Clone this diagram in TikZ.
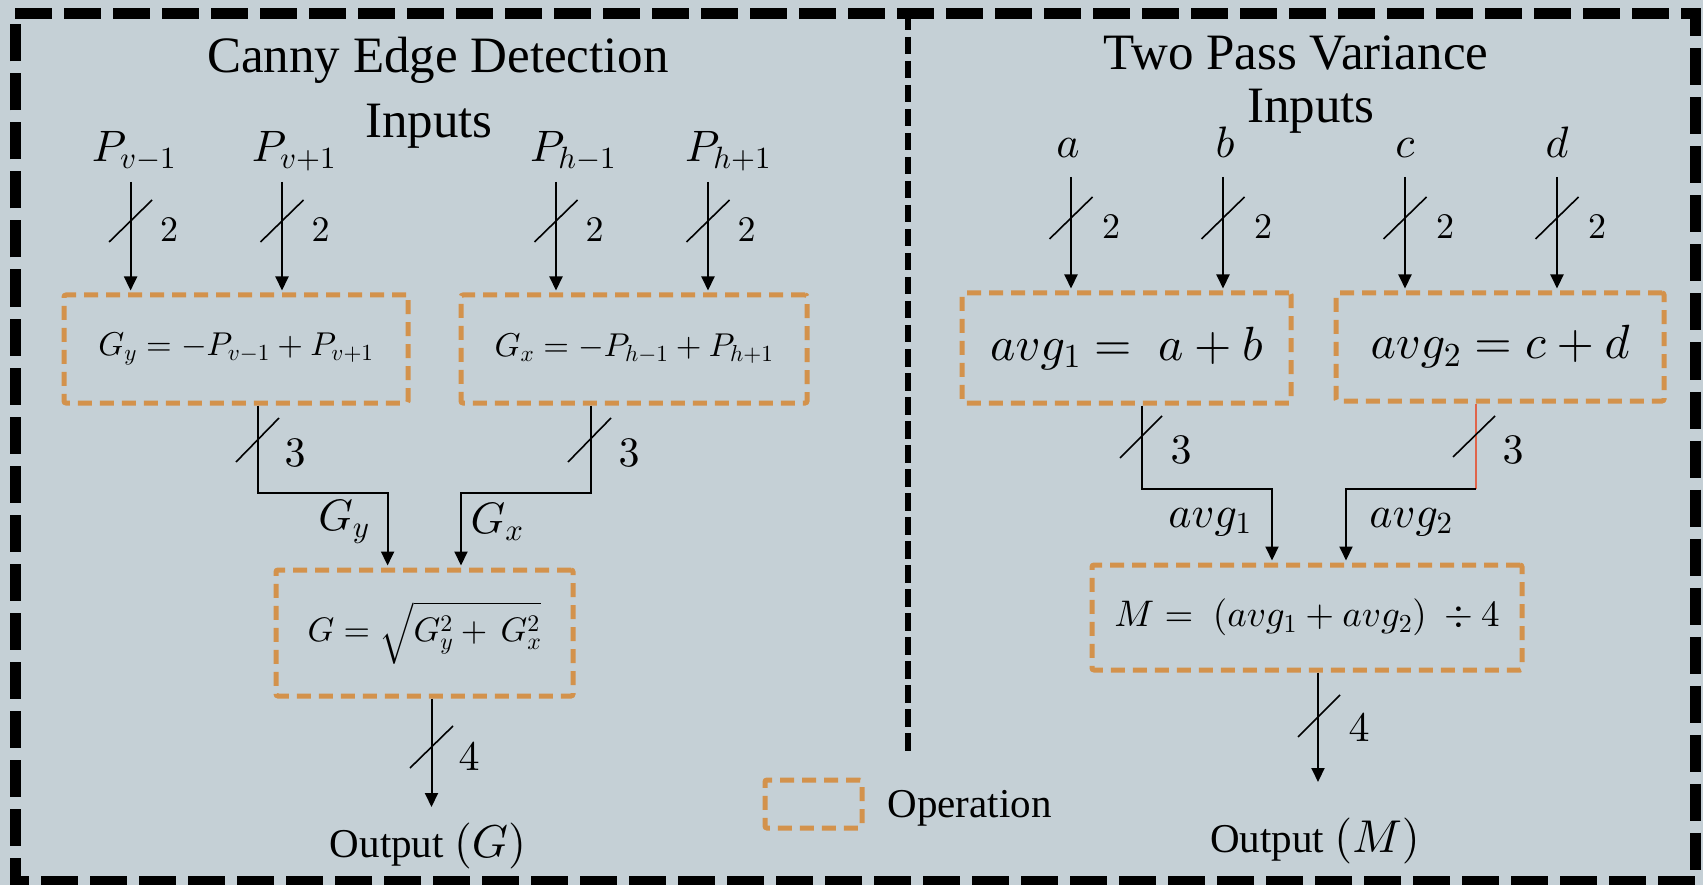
\documentclass[tikz,border=0pt]{standalone}
\usepackage{fontspec}
\setmainfont{Liberation Serif}
\usetikzlibrary{arrows.meta}
% scalable math fonts for the large formula sizes
\DeclareFontFamily{OML}{cmm}{\skewchar\font'177}
\DeclareFontShape{OML}{cmm}{m}{it}{<->cmmi10}{}
\DeclareFontFamily{OMS}{cmsy}{\skewchar\font'60}
\DeclareFontShape{OMS}{cmsy}{m}{n}{<->cmsy10}{}
\DeclareFontFamily{OMX}{cmex}{}
\DeclareFontShape{OMX}{cmex}{m}{n}{<->cmex10}{}
\DeclareFontFamily{OT1}{cmr}{\hyphenchar\font45}
\DeclareFontShape{OT1}{cmr}{m}{n}{<->cmr10}{}
\definecolor{panel}{RGB}{197,208,214}
\definecolor{opedge}{RGB}{211,146,76}
\definecolor{wirered}{RGB}{224,100,74}

\begin{document}
\begin{tikzpicture}[x=1pt,y=-1pt,
  frame/.style={line width=11pt,dash pattern=on 37pt off 12pt},
  divider/.style={line width=6pt,dash pattern=on 17.5pt off 6.5pt},
  opbox/.style={draw=opedge,line width=5pt,dash pattern=on 14pt off 8pt,
    rounded corners=2pt,inner sep=0pt},
  wire/.style={line width=2pt},
  arr/.style={wire,-{Triangle[width=13pt,length=14pt]},shorten >=2pt},
  slash/.style={line width=1.6pt},
  heading/.style={font=\fontsize{51}{58}\selectfont,anchor=base},
  sig/.style={font=\fontsize{44}{50}\selectfont},
  busw/.style={font=\fontsize{36}{40}\selectfont},
  buswide/.style={font=\fontsize{42}{46}\selectfont},
  outtext/.style={font=\fontsize{41}{46}\selectfont,anchor=base},
]
% canvas and frame
\fill[panel] (0,0) rectangle (1703,885);
\useasboundingbox (0,0) rectangle (1703,885);
\draw[frame] (15,13.5) -- (1695,13.5) -- (1695,881) -- (15,881) -- cycle;
\draw[divider] (907.5,13) -- (907.5,752);

% headings
\node[heading] (t1) at (438,73) {Canny Edge Detection};
\node[heading] (in1) at (429,138) {Inputs};
\node[heading] (t2) at (1296,70) {Two Pass Variance};
\node[heading] (in2) at (1311,123) {Inputs};

% ---------- Canny edge detection ----------
\node[sig,anchor=base] (pv1) at (134,162) {$P_{v-1}$};
\node[sig,anchor=base] (pv2) at (294,162) {$P_{v+1}$};
\node[sig,anchor=base] (ph1) at (573,162) {$P_{h-1}$};
\node[sig,anchor=base] (ph2) at (728,162) {$P_{h+1}$};

\node[opbox,minimum width=344pt,minimum height=108pt,
  font=\fontsize{33}{37}\selectfont] (gy) at (236,349)
  {$G_y = -P_{v-1} + P_{v+1}$};
\node[opbox,minimum width=346pt,minimum height=108pt,
  font=\fontsize{33}{37}\selectfont] (gx) at (634,349)
  {$G_x = -P_{h-1} + P_{h+1}$};
\node[opbox,minimum width=297pt,minimum height=126pt,
  font=\fontsize{34}{38}\selectfont] (g) at (424.5,633)
  {$G = \sqrt{G_y^2 + \,G_x^2}$};

% input wires
\coordinate (a1) at (130.6,182);
\coordinate (a2) at (282,182);
\coordinate (a3) at (556,182);
\coordinate (a4) at (708,182);
\draw[arr] (a1) -- (a1 |- gy.north);
\draw[arr] (a2) -- (a2 |- gy.north);
\draw[arr] (a3) -- (a3 |- gx.north);
\draw[arr] (a4) -- (a4 |- gx.north);
\foreach \c/\n in {130.6/la1,282/la2,556/la3,708/la4}{
  \draw[slash] (\c-21.5,242) -- (\c+21.5,200);
  \node[busw] (\n) at (\c+38.5,230) {$2$};
}

% gradient wires
\coordinate (k1) at (387.6,493);
\coordinate (k2) at (461,493);
\draw[arr] ([xshift=21.5pt]gy.south) |- (k1) -- (k1 |- g.north);
\draw[arr] ([xshift=-43pt]gx.south) |- (k2) -- (k2 |- g.north);
\draw[slash] (236,462) -- (279,418);
\draw[slash] (568,462) -- (611,418);
\node[buswide] (lb1) at (295,453) {$3$};
\node[buswide] (lb2) at (629,453) {$3$};
\node[sig] (lgy) at (344,522) {$G_y$};
\node[sig] (lgx) at (497,522) {$G_x$};

% output
\coordinate (o1) at (431.5,807);
\draw[arr,shorten >=0pt] ([xshift=7pt]g.south) -- (o1);
\draw[slash] (410,768) -- (453,726);
\node[buswide] (lb3) at (469,757) {$4$};
\node[outtext] (out1) at (428,857) {Output \fontsize{46}{50}\selectfont$(G)$};

% ---------- Two pass variance ----------
\node[sig,anchor=base] (va) at (1068,158) {$a$};
\node[sig,anchor=base] (vb) at (1225,158) {$b$};
\node[sig,anchor=base] (vc) at (1405,158) {$c$};
\node[sig,anchor=base] (vd) at (1557,158) {$d$};

\node[opbox,minimum width=329pt,minimum height=110pt,
  font=\fontsize{48}{54}\selectfont] (s1) at (1126.5,348)
  {$avg_1 = \;a + b$};
\node[opbox,minimum width=328pt,minimum height=108pt,
  font=\fontsize{48}{54}\selectfont] (s2) at (1500,347)
  {$avg_2 = c + d$};
\node[opbox,minimum width=430pt,minimum height=105pt,
  font=\fontsize{37}{42}\selectfont] (m) at (1307,617.5)
  {$M = \ (avg_1 + avg_2)\ \div 4$};

\coordinate (b1) at (1071,177);
\coordinate (b2) at (1223,177);
\coordinate (b3) at (1405,177);
\coordinate (b4) at (1557,177);
\draw[arr] (b1) -- (b1 |- s1.north);
\draw[arr] (b2) -- (b2 |- s1.north);
\draw[arr] (b3) -- (b3 |- s2.north);
\draw[arr] (b4) -- (b4 |- s2.north);
\foreach \c/\n in {1071/lr1,1223/lr2,1405/lr3,1557/lr4}{
  \draw[slash] (\c-21.5,239) -- (\c+21.5,197);
  \node[busw] (\n) at (\c+40,227) {$2$};
}

% sum wires
\coordinate (k3) at (1272,489);
\coordinate (k4) at (1476,489);
\coordinate (k5) at (1346,489);
\draw[arr] ([xshift=15.5pt]s1.south) |- (k3) -- (k3 |- m.north);
\draw[wirered,line width=1.4pt] ([xshift=-24pt]s2.south) -- (k4);
\draw[arr] (k4) -- (k5) -- (k5 |- m.north);
\draw[slash] (1120,458) -- (1162,416);
\draw[slash] (1453,457) -- (1495,416);
\node[buswide] (lb4) at (1181,450) {$3$};
\node[buswide] (lb5) at (1513,450) {$3$};
\node[sig] (lav1) at (1210,522) {$avg_1$};
\node[sig] (lav2) at (1411,522) {$avg_2$};

% output
\coordinate (o2) at (1318,782);
\draw[arr,shorten >=0pt] ([xshift=11pt]m.south) -- (o2);
\draw[slash] (1298,737) -- (1340,695);
\node[buswide] (lb6) at (1359,728) {$4$};
\node[outtext] (out2) at (1315,852) {Output \fontsize{46}{50}\selectfont$(M)$};

% legend
\node[opbox,minimum width=97pt,minimum height=48pt] (key) at (813.5,804) {};
\node[outtext,anchor=base west] (keytext) at (884,817) {Operation};
\end{tikzpicture}
\end{document}
